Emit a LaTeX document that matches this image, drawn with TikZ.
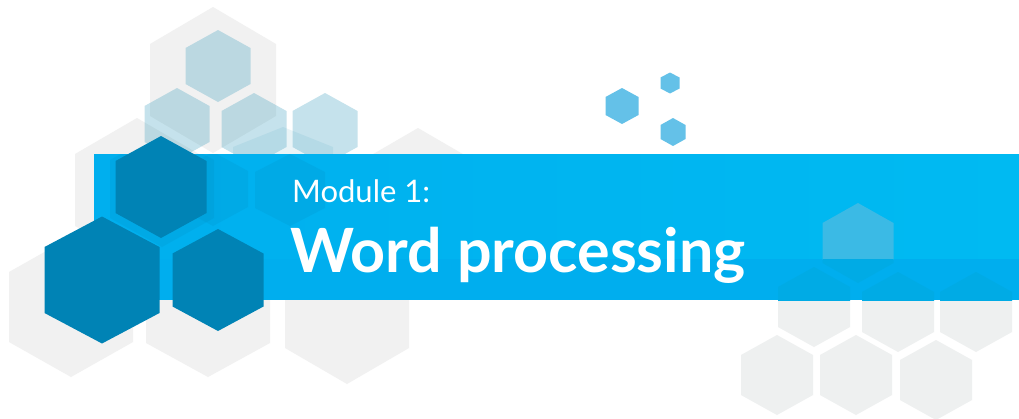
\documentclass[tikz,border=0pt]{standalone}
\usepackage{fontspec}
\setmainfont{Lato}
\definecolor{grayL}{HTML}{F1F1F1}
\definecolor{grayR}{HTML}{EEF0F0}
\definecolor{darkB}{HTML}{0083B5}
\definecolor{lightB}{HTML}{2C97B9}
\definecolor{bannerL}{HTML}{00AFEE}
\definecolor{bannerR}{HTML}{00BAF2}
\definecolor{stripB}{HTML}{00AEEE}
\definecolor{smallB}{HTML}{64C1E8}
\definecolor{hexUp}{HTML}{3BBAE5}
\definecolor{hexDown}{HTML}{00ABE5}
\newcommand\hx[5]{({#1},{#2-#4}) -- ({#1+#3},{#2-#5}) -- ({#1+#3},{#2+#5}) -- ({#1},{#2+#4}) -- ({#1-#3},{#2+#5}) -- ({#1-#3},{#2-#5}) -- cycle}
\tikzset{
  grayhexL/.style={fill=grayL},
  grayhexR/.style={fill=grayR},
  lighthex/.style={fill=lightB, fill opacity=0.27},
  ghosthex/.style={fill=darkB, fill opacity=0.15},
  darkhex/.style={fill=darkB},
  smallhex/.style={fill=smallB},
  title/.style={anchor=base west, inner sep=0pt, text=white}
}
\begin{document}
\begin{tikzpicture}[x=1pt,y=-1pt]
\fill[white] (0,0) rectangle (1019,418);
\useasboundingbox (0,0) rectangle (1019,418);
% gray hexes left cluster
\fill[grayhexL] \hx{213}{80}{63}{73}{36};
\fill[grayhexL] \hx{137}{190}{62}{72}{36};
\fill[grayhexL] \hx{71}{307}{62}{70}{35};
\fill[grayhexL] \hx{208}{307}{62}{70}{36};
\fill[grayhexL] \hx{347}{312}{62}{72}{36};
\fill[grayhexL] \hx{418}{200}{62}{72}{36};
% gray hexes right cluster
\fill[grayhexR] \hx{814}{307}{36}{40}{20};
\fill[grayhexR] \hx{898}{312}{36}{40}{20};
\fill[grayhexR] \hx{976}{312}{36}{40}{20};
\fill[grayhexR] \hx{777}{375}{36}{40}{20};
\fill[grayhexR] \hx{856}{375}{36}{40}{20};
\fill[grayhexR] \hx{936}{380}{36}{40}{20};
% light translucent hexes
\fill[lighthex] \hx{218}{66}{32.5}{36}{18};
\fill[lighthex] \hx{177}{124}{32.5}{36}{18};
\fill[lighthex] \hx{254}{129}{32.5}{36}{18};
\fill[lighthex] \hx{325}{129}{32.5}{36}{18};
\fill[lighthex, fill opacity=0.1] \hx{283}{182}{50}{55}{35};
% small blue hexes
\fill[smallhex] \hx{622}{106}{16.5}{18}{9};
\fill[smallhex] \hx{670}{83}{9.5}{10.5}{5.5};
\fill[smallhex] \hx{673}{132}{12.5}{14}{7};
% banner
\shade[left color=bannerL, right color=bannerR] (94,154) rectangle (1019,259);
\fill[stripB] (94,259) rectangle (1019,300);
\begin{scope}
  \clip (94,154) rectangle (1019,259);
  \fill[hexUp] \hx{858}{243}{35.5}{40}{20};
\end{scope}
\begin{scope}
  \clip (94,259) rectangle (1019,300);
  \fill[hexDown] \hx{858}{243}{35.5}{40}{20};
  \fill[hexDown] \hx{814}{307}{36}{40}{20};
  \fill[hexDown] \hx{898}{312}{36}{40}{20};
  \fill[hexDown] \hx{976}{312}{36}{40}{20};
\end{scope}
% ghost hexes in banner
\begin{scope}
  \clip (94,154) rectangle (1019,300);
  \fill[ghosthex] \hx{213}{189}{35}{37}{18};
  \fill[ghosthex] \hx{290}{190}{35}{36}{18};
  \fill[ghosthex] \hx{162}{189}{52}{58}{29};
\end{scope}
% dark hexes
\fill[darkhex] \hx{161}{187}{45.5}{51}{26};
\fill[darkhex] \hx{102}{280}{57.5}{63.5}{33};
\fill[darkhex] \hx{218}{280}{45.5}{51}{26.5};
% text
\node[title, font=\fontsize{31}{36}\selectfont] (mod) at (292,202) {Module 1:};
\node[title, font=\bfseries\fontsize{61}{72}\selectfont] (ttl) at (290,272) {Word processing};
\end{tikzpicture}
\end{document}
